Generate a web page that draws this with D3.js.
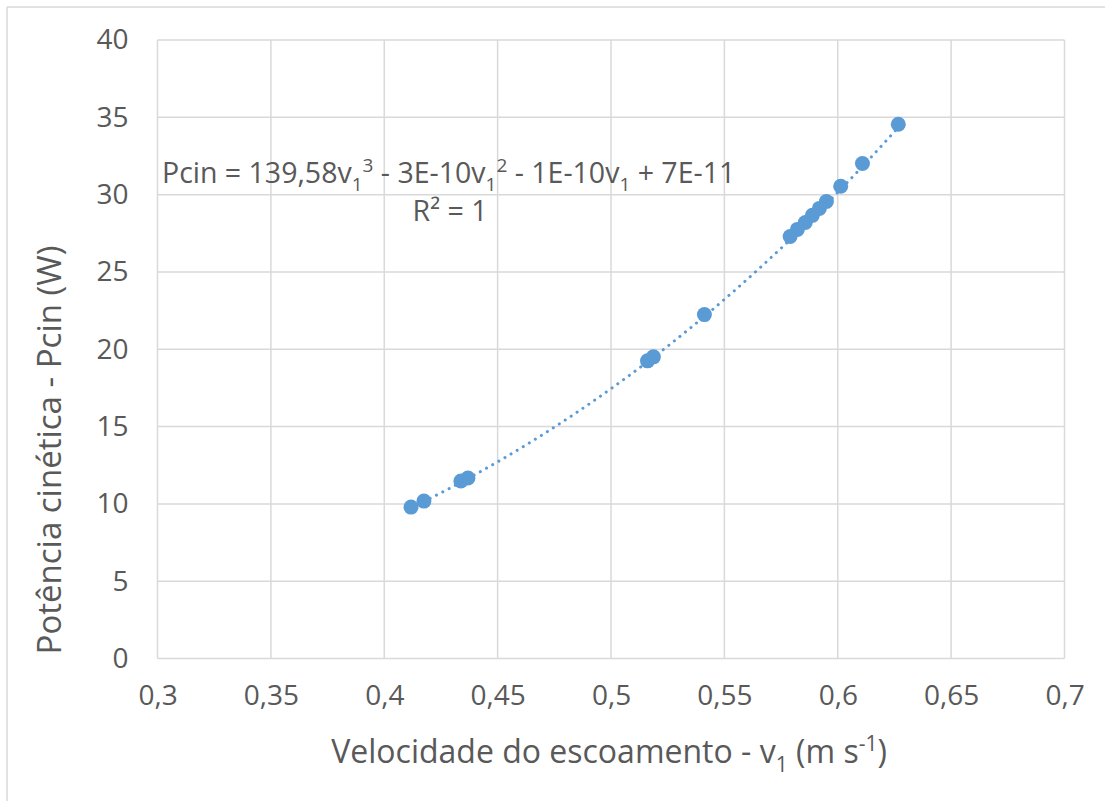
<!DOCTYPE html>
<html>
<head>
<meta charset="utf-8">
<script src="https://cdn.jsdelivr.net/npm/d3@7"></script>
<style>
  html, body { margin: 0; padding: 0; background: #fff; }
  svg { display: block; }
  text { font-family: "Open Sans", sans-serif; fill: #595959; }
</style>
</head>
<body>
<svg id="chart" width="1105" height="801"></svg>
<script>
// Flow velocity v1 (m/s) and kinetic power Pcin (W)
const velocity = [0.4118, 0.4175, 0.4338, 0.4369, 0.5161, 0.5187, 0.5412,
                  0.5790, 0.5822, 0.5857, 0.5888, 0.5919, 0.5950,
                  0.6013, 0.6109, 0.6267];
const power    = [9.79, 10.18, 11.48, 11.67, 19.25, 19.51, 22.24,
                  27.29, 27.75, 28.20, 28.66, 29.11, 29.56,
                  30.54, 32.01, 34.55];

// Axis ticks
const xTicks = [0.3, 0.35, 0.4, 0.45, 0.5, 0.55, 0.6, 0.65, 0.7];
const yTicks = [0, 5, 10, 15, 20, 25, 30, 35, 40];

// Polynomial trendline coefficients (order 3): a3, a2, a1, a0
const trendCoef = [139.58, -3e-10, -1e-10, 7e-11];

const color = "#5B9BD5";
const gridColor = "#d9d9d9";

const svg = d3.select("#chart");
const plot = { left: 157.5, right: 1064.5, top: 40, bottom: 658.5 };

const x = d3.scaleLinear().domain([0.3, 0.7]).range([plot.left, plot.right]);
const y = d3.scaleLinear().domain([0, 40]).range([plot.bottom, plot.top]);

const fmt = v => String(+v.toFixed(2)).replace(".", ",");

// Chart frame (top and left edges)
svg.append("line").attr("x1", 7).attr("x2", 1105).attr("y1", 7).attr("y2", 7)
  .attr("stroke", gridColor).attr("stroke-width", 1.5);
svg.append("line").attr("x1", 7).attr("x2", 7).attr("y1", 7).attr("y2", 801)
  .attr("stroke", gridColor).attr("stroke-width", 1.5);

// Gridlines
const grid = svg.append("g");
grid.selectAll("line.h").data(yTicks).join("line").attr("class", "h")
  .attr("x1", plot.left).attr("x2", plot.right)
  .attr("y1", d => y(d)).attr("y2", d => y(d))
  .attr("stroke", gridColor).attr("stroke-width", 1.5);
grid.selectAll("line.v").data(xTicks).join("line").attr("class", "v")
  .attr("x1", d => x(d)).attr("x2", d => x(d))
  .attr("y1", plot.top).attr("y2", plot.bottom)
  .attr("stroke", gridColor).attr("stroke-width", 1.5);

// Axes (labels only, the gridlines form the frame)
const xAxis = svg.append("g").attr("transform", `translate(0,${plot.bottom})`)
  .call(d3.axisBottom(x).tickValues(xTicks).tickFormat(fmt).tickSize(0).tickPadding(27));
const yAxis = svg.append("g").attr("transform", `translate(${plot.left},0)`)
  .call(d3.axisLeft(y).tickValues(yTicks).tickFormat(fmt).tickSize(0).tickPadding(29));
[xAxis, yAxis].forEach(a => {
  a.select(".domain").remove();
  a.selectAll("text").attr("font-family", "Open Sans, sans-serif")
    .attr("font-size", 28).attr("fill", "#595959");
});

// Trendline
const vMin = d3.min(velocity), vMax = d3.max(velocity);
const poly = v => trendCoef[0] * v ** 3 + trendCoef[1] * v ** 2 + trendCoef[2] * v + trendCoef[3];
const trendPts = d3.range(0, 101).map(i => {
  const v = vMin + (vMax - vMin) * i / 100;
  return [v, poly(v)];
});
svg.append("path")
  .datum(trendPts)
  .attr("d", d3.line().x(d => x(d[0])).y(d => y(d[1])))
  .attr("fill", "none")
  .attr("stroke", color)
  .attr("stroke-width", 3)
  .attr("stroke-linecap", "round")
  .attr("stroke-dasharray", "0.1,7");

// Data points
svg.append("g").selectAll("circle")
  .data(velocity.map((v, i) => [v, power[i]]))
  .join("circle")
  .attr("cx", d => x(d[0])).attr("cy", d => y(d[1]))
  .attr("r", 7.5)
  .attr("fill", color);

// Trendline equation
const eq = svg.append("text").attr("x", 162).attr("y", 183).attr("font-size", 28.5);
eq.append("tspan").text("Pcin = 139,58v");
eq.append("tspan").attr("font-size", 19).attr("dy", 8).text("1");
eq.append("tspan").attr("font-size", 19).attr("dy", -19).text("3");
eq.append("tspan").attr("dy", 11).text(" - 3E-10v");
eq.append("tspan").attr("font-size", 19).attr("dy", 8).text("1");
eq.append("tspan").attr("font-size", 19).attr("dy", -19).text("2");
eq.append("tspan").attr("dy", 11).text(" - 1E-10v");
eq.append("tspan").attr("font-size", 19).attr("dy", 8).text("1");
eq.append("tspan").attr("dy", -8).text(" + 7E-11");

svg.append("text").attr("x", 450).attr("y", 221).attr("text-anchor", "middle")
  .attr("font-size", 28.5).text("R² = 1");

// Axis titles
const xt = svg.append("text").attr("x", 609).attr("y", 763)
  .attr("text-anchor", "middle").attr("font-size", 32);
xt.append("tspan").text("Velocidade do escoamento - v");
xt.append("tspan").attr("font-size", 21).attr("dy", 9).text("1");
xt.append("tspan").attr("dy", -9).text(" (m s");
xt.append("tspan").attr("font-size", 21).attr("dy", -12).text("-1");
xt.append("tspan").attr("dy", 12).text(")");

svg.append("text")
  .attr("transform", "translate(61,450) rotate(-90)")
  .attr("text-anchor", "middle").attr("font-size", 33)
  .text("Potência cinética - Pcin (W)");
</script>
</body>
</html>
